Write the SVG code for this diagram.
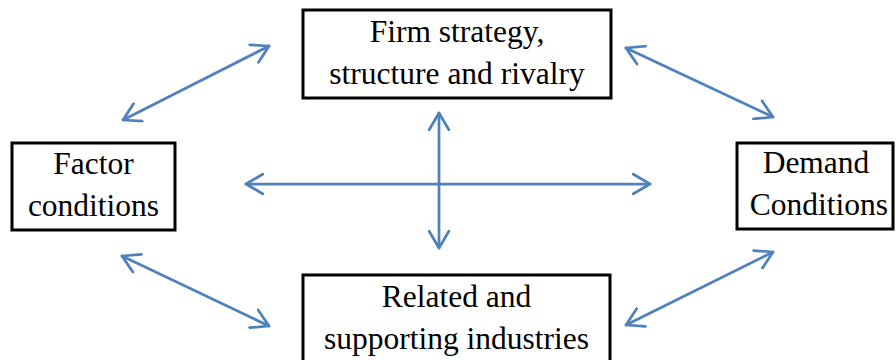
<svg xmlns="http://www.w3.org/2000/svg" width="896" height="360" viewBox="0 0 896 360">
<defs>
<style>
.box{fill:#fff;stroke:#000;stroke-width:3}
.lbl{font-family:"Liberation Serif","Times New Roman",serif;font-size:31.5px;fill:#000;text-anchor:middle}
.conn{stroke:#4F81BD;stroke-width:2.75;fill:none;stroke-linecap:round;marker-start:url(#ah);marker-end:url(#ah)}
</style>
<marker id="ah" markerUnits="userSpaceOnUse" viewBox="0 0 20 22" refX="18" refY="11" markerWidth="20" markerHeight="22" orient="auto-start-reverse">
<path d="M1,1 L18,11 L1,21" fill="none" stroke="#4F81BD" stroke-width="2.75" stroke-linecap="round" stroke-linejoin="round"/>
</marker>
</defs>
<rect width="896" height="360" fill="#fff"/>
<g id="connectors">
<line class="conn" x1="123" y1="120" x2="269" y2="46"/>
<line class="conn" x1="626" y1="48" x2="773" y2="117"/>
<line class="conn" x1="773" y1="252" x2="626" y2="325"/>
<line class="conn" x1="122" y1="256" x2="269" y2="326"/>
<line class="conn" x1="246" y1="184" x2="650" y2="184"/>
<line class="conn" x1="439" y1="113" x2="439" y2="248"/>
</g>
<g id="firm">
<rect class="box" x="303" y="10" width="308" height="88"/>
<text class="lbl" x="457" y="42">Firm strategy,</text>
<text class="lbl" x="457" y="84">structure and rivalry</text>
</g>
<g id="factor">
<rect class="box" x="12" y="143" width="163" height="87"/>
<text class="lbl" x="93.5" y="174">Factor</text>
<text class="lbl" x="93.5" y="216">conditions</text>
</g>
<g id="demand">
<rect class="box" x="737" y="143" width="156" height="86"/>
<text class="lbl" x="816" y="173">Demand</text>
<text class="lbl" x="819" y="215">Conditions</text>
</g>
<g id="related">
<rect class="box" x="303" y="275" width="307" height="100"/>
<text class="lbl" x="456.5" y="307">Related and</text>
<text class="lbl" x="456.5" y="349">supporting industries</text>
</g>
</svg>
